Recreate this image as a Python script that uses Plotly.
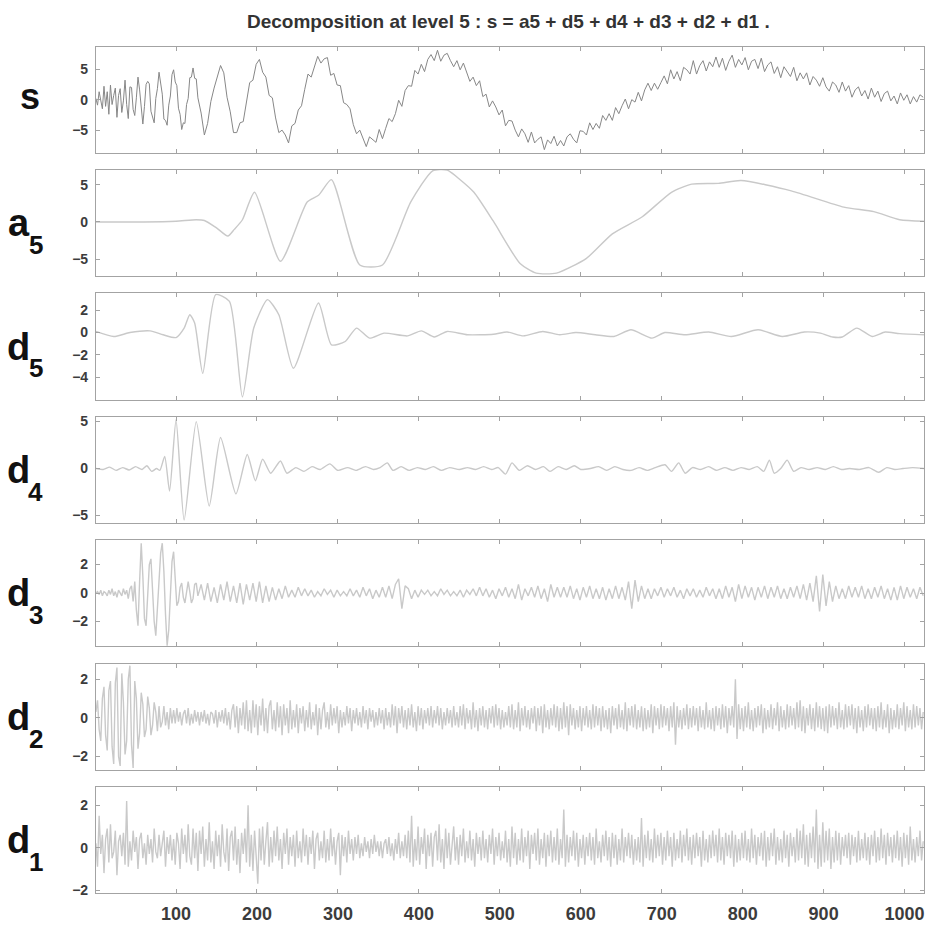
import numpy as np
import plotly.graph_objects as go

# ---------------- sample grids (sample index along the signal) ----------------
x_fine = np.concatenate([np.arange(1, 128, 2), np.arange(131, 1024, 4)])
x_step2 = np.arange(1, 1024, 2)

# ---------------- signal s ----------------
s_head = [
    0.2, -0.9, 1.3, -0.4, -1.5, 2.2, -1.1, 1.3, -2.4, 2.4, -0.8, 0.7, 1.9, -2.9, 0.7, 1.8,
    -2.1, -0.2, 3.2, -0.8, -3.1, 2.1, 2.0, -1.6, -2.6, 0.3, 3.7, 1.6, -0.8, -4.0, -1.1, 2.5,
    3.0, 2.6, -1.9, -2.9, -3.8, 0.2, 1.8, 4.5, 2.3, 0.9, -3.2, -3.4, -4.2, -0.9, 0.6, 4.1,
    4.9, 2.9, 2.3, -1.4, -2.4, -4.9, -3.8, -3.9, -0.8, 0.2, 3.6, 3.7, 5.2, 3.5, 3.4, 0.3,
]
s_tail = [
    -2.2, -5.8, -3.9, -0.3, 1.9, 3.6, 5.6, 4.4, 0.4, -2.0, -5.4, -5.4, -3.8, -3.6, -0.7, 2.8,
    3.2, 5.8, 6.6, 4.5, 3.7, 0.7, 0.3, -3.0, -5.4, -5.0, -5.8, -7.1, -4.3, -3.9, -1.7, -1.0,
    1.7, 4.2, 3.7, 5.3, 7.1, 6.0, 6.7, 6.9, 4.0, 4.3, 2.4, 2.3, -0.5, -0.8, -1.5, -4.1,
    -5.6, -5.0, -6.5, -7.7, -6.1, -6.5, -7.0, -4.9, -6.4, -4.7, -3.1, -3.6, -2.3, -0.1, -1.1, 1.5,
    2.3, 2.2, 4.8, 4.2, 5.8, 4.6, 6.6, 7.4, 6.4, 8.1, 6.3, 7.3, 7.6, 6.4, 5.4, 6.4,
    4.9, 6.0, 4.5, 3.0, 3.7, 2.3, 3.1, 0.5, 0.9, -1.2, -0.2, -1.2, -2.5, -1.7, -4.3, -3.4,
    -3.5, -5.0, -6.1, -4.8, -5.6, -7.0, -5.3, -7.1, -6.5, -6.1, -8.2, -6.6, -7.2, -6.0, -7.6, -6.7,
    -7.6, -6.1, -5.6, -6.5, -7.1, -5.1, -5.2, -5.8, -3.8, -4.9, -3.9, -4.7, -2.6, -3.4, -2.3, -3.4,
    -1.3, -2.3, -1.0, 0.1, -1.5, 0.0, -0.4, 1.2, -0.2, 1.6, 2.7, 1.5, 2.7, 1.7, 2.8, 3.9,
    2.6, 4.9, 3.4, 4.6, 3.1, 5.3, 4.9, 4.2, 6.4, 4.2, 5.6, 6.4, 4.7, 6.2, 5.4, 7.0,
    5.3, 6.8, 4.8, 6.3, 7.3, 5.3, 6.6, 5.7, 6.9, 4.9, 6.3, 6.6, 5.1, 6.8, 4.6, 5.7,
    6.2, 4.3, 5.4, 3.6, 5.4, 4.7, 3.8, 5.3, 3.1, 4.4, 3.4, 4.4, 2.4, 3.8, 3.2, 2.2,
    3.6, 2.1, 1.4, 2.9, 2.4, 1.2, 2.9, 1.4, 2.3, 0.4, 1.6, 2.1, 0.6, 1.5, 0.1, 1.9,
    0.4, 1.4, -0.3, 1.0, 1.4, -0.2, 0.6, -0.7, 1.1, -0.1, 0.8, -0.7, 0.5, -0.4, 0.8, 0.4,
]
s_vals = s_head + s_tail

# ---------------- approximation a5 ----------------
a5_x = [1, 60, 100, 125, 135, 150, 164, 172, 182, 197, 229, 262, 276, 292, 327, 355,
        390, 417, 435, 451, 468, 492, 525, 545, 570, 607, 639, 676, 712, 737, 770,
        798, 860, 925, 962, 994, 1024]
a5_vals = [0.0, 0.0, 0.1, 0.3, 0.2, -0.8, -1.9, -1.0, 0.3, 4.0, -5.3, 2.7, 3.6, 5.7, -5.8, -5.8,
           2.7, 6.9, 7.0, 5.7, 4.0, 0.1, -5.6, -6.9, -6.9, -4.9, -1.6, 0.7, 4.0, 5.1, 5.2,
           5.6, 4.2, 2.0, 1.4, 0.3, 0.1]

# ---------------- detail d5 ----------------
d5_x = [1, 23, 43, 68, 84, 100, 110, 117, 123, 133, 149, 166, 182, 196, 213, 227, 245,
        276, 292, 309, 323, 339, 357, 386, 403, 419, 435, 460, 492, 509, 529, 553, 574,
        594, 618, 641, 662, 688, 704, 729, 758, 786, 819, 849, 876, 896, 911, 923, 941,
        960, 976, 994, 1024]
d5_vals = [0.1, -0.36, 0.0, 0.15, -0.2, -0.45, 0.4, 1.6, 0.85, -3.66, 3.4, 2.8, -5.77, 0.4,
           2.95, 1.6, -3.2, 2.65, -1.1, -0.8, 0.4, -0.5, -0.05, -0.3, 0.15, -0.4, 0.1, -0.2,
           -0.15, 0.05, -0.3, 0.1, -0.2, 0.0, -0.2, -0.35, 0.25, -0.5, 0.0, -0.2, 0.05,
           -0.35, 0.25, -0.35, 0.05, -0.05, -0.4, -0.4, 0.4, -0.35, 0.05, -0.1, -0.2]

# ---------------- detail d4 ----------------
d4_x = [1, 10, 18, 26, 34, 42, 50, 58, 64, 70, 76, 80, 86, 92, 100, 110, 125, 141, 155,
        174, 188, 198, 207, 217, 229, 237, 248, 258, 268, 278, 290, 300, 312, 322, 334,
        344, 352, 361, 368, 378, 388, 398, 408, 418, 428, 438, 450, 460, 470, 480, 490,
        498, 507, 515, 524, 534, 544, 554, 562, 572, 582, 592, 600, 612, 622, 632, 642,
        652, 662, 672, 682, 692, 704, 712, 721, 729, 738, 748, 758, 768, 778, 788, 798,
        808, 818, 826, 833, 839, 847, 855, 863, 872, 882, 892, 902, 912, 922, 932, 944,
        956, 968, 978, 988, 998, 1010, 1024]
d4_vals = [0.0, -0.1, 0.15, -0.2, 0.1, -0.15, 0.2, -0.1, 0.3, -0.3, 0.0, -0.2, 1.3, -2.4,
           5.2, -5.5, 5.0, -4.0, 3.3, -2.7, 1.5, -1.3, 1.0, -0.5, 0.8, -0.5, 0.1, -0.3, 0.2,
           -0.1, 0.5, -0.2, 0.1, -0.2, 0.2, -0.1, 0.1, 0.6, -0.2, 0.2, -0.2, 0.1, -0.1, 0.2,
           -0.2, 0.1, -0.1, 0.1, -0.1, 0.2, -0.1, 0.1, -0.6, 0.6, -0.2, 0.3, -0.1, 0.2, -0.3,
           0.2, -0.1, 0.3, -0.1, 0.0, 0.2, -0.2, 0.2, -0.1, -0.2, 0.1, -0.2, 0.1, 0.4, -0.3,
           0.6, -0.5, 0.1, -0.1, 0.2, -0.2, 0.1, -0.2, 0.1, -0.1, 0.2, -0.3, 0.9, -0.5, 0.0,
           0.9, -0.3, 0.1, -0.1, 0.1, -0.1, 0.2, -0.1, 0.0, -0.1, 0.1, -0.4, 0.1, -0.1, 0.0,
           0.1, 0.0]

# ---------------- detail d3 ----------------
d3_head = [
    0.0, 0.1, -0.1, 0.2, -0.2, 0.1, 0.0, -0.2, 0.2, -0.1, 0.3, -0.2, 0.1, -0.3, 0.2, 0.0,
    -0.2, 0.3, -0.1, 0.2, -0.4, 0.3, 0.5, -0.6, 0.8, -1.2, -2.3, 0.8, 3.5, 1.2, -1.8, -2.3,
    0.2, 2.0, 2.4, 0.4, -2.0, -3.0, -1.0, 1.0, 2.8, 3.5, 1.5, -1.5, -3.7, -2.6, 0.2, 2.2,
    2.9, 1.2, -0.9, -0.6, 0.4, 0.7, -0.3, -0.7, 0.2, 0.8, 0.1, -0.7, -0.4, 0.6, 0.7, -0.2,
]
d3_tail = [
    0.6, -0.5, 0.7, -0.6, 0.4, -0.7, 0.6, -0.5, 0.8, -0.6, 0.5, -0.7, 0.7, -0.8, 0.6, -0.5,
    0.7, -0.6, 0.8, -0.7, 0.5, -0.6, 0.4, -0.5, 0.3, -0.4, 0.5, -0.3, 0.2, -0.3, 0.4, -0.2,
    0.3, -0.2, 0.2, -0.3, 0.1, -0.2, 0.3, -0.1, 0.2, -0.3, 0.2, -0.2, 0.1, -0.2, 0.3, -0.2,
    0.2, -0.3, 0.4, -0.2, 0.3, -0.4, 0.2, -0.3, 0.4, -0.3, 0.5, -0.4, 0.6, 1.0, -1.1, 0.5,
    0.3, -0.4, 0.2, -0.3, 0.2, -0.1, 0.2, -0.2, 0.1, -0.2, 0.3, -0.1, 0.2, -0.2, 0.1, -0.2,
    0.2, -0.3, 0.2, -0.1, 0.3, -0.2, 0.4, -0.2, 0.3, -0.3, 0.2, -0.4, 0.3, -0.2, 0.4, -0.3,
    0.3, -0.4, 0.6, -0.5, 0.3, -0.2, 0.4, -0.3, 0.5, -0.4, 0.3, -0.6, 0.6, -0.3, 0.4, -0.3,
    0.4, -0.3, 0.5, -0.4, 0.3, -0.5, 0.4, -0.3, 0.5, -0.4, 0.3, -0.4, 0.4, -0.5, 0.3, -0.4,
    0.5, -0.4, 0.4, -0.5, 0.8, -1.1, 0.9, -0.6, 0.5, -0.4, 0.3, -0.4, 0.3, -0.2, 0.4, -0.3,
    0.3, -0.2, 0.4, -0.3, 0.2, -0.4, 0.3, -0.2, 0.3, -0.3, 0.2, -0.3, 0.4, -0.2, 0.3, -0.4,
    0.3, -0.4, 0.5, -0.3, 0.4, -0.6, 0.6, -0.4, 0.5, -0.3, 0.4, -0.5, 0.4, -0.3, 0.5, -0.4,
    0.4, -0.3, 0.5, -0.4, 0.3, -0.4, 0.4, -0.3, 0.5, -0.4, 0.6, -0.5, 0.7, -0.6, 1.2, -1.3,
    1.3, -0.9, 0.8, -0.6, 0.5, -0.4, 0.3, -0.4, 0.5, -0.3, 0.4, -0.3, 0.5, -0.4, 0.3, -0.4,
    0.4, -0.3, 0.5, -0.4, 0.3, -0.5, 0.4, -0.5, 0.5, -0.4, 0.4, -0.3, 0.3, -0.4, 0.4, -0.2,
]
d3_vals = d3_head + d3_tail

# ---------------- detail d2 ----------------
d2_vals = [
    0.3, 0.9, -0.6, -1.2, 1.0, 1.6, -0.9, -1.7, 1.4, 1.9, -1.5, -2.4, 1.8, 2.6, -2.0, -2.5,
    2.3, 0.8, -1.9, -1.2, 2.0, 2.7, -1.4, -2.6, 1.9, 1.0, -1.6, -0.8, 1.3, 0.7, -1.0, -0.6,
    1.1, 0.5, -0.9, -0.4, 0.8, 0.3, -0.7, 0.6, -0.5, -0.2, 0.6, -0.4, 0.3, -0.6, 0.5, -0.3,
    0.4, -0.3, 0.5, -0.2, 0.3, -0.4, 0.2, 0.4, -0.3, 0.5, -0.4, 0.2, -0.3, 0.4, -0.2, 0.3,
    -0.4, 0.3, -0.2, 0.4, -0.3, 0.2, -0.4, 0.3, 0.2, -0.3, 0.4, -0.5, 0.3, -0.2, 0.4, -0.3,
    0.5, -0.4, 0.3, -0.6, 0.4, 0.7, -0.5, 0.6, -0.8, 0.5, -0.4, 0.8, -0.6, 0.9, -0.7, 0.4,
    -0.8, 0.9, -0.5, 0.7, -0.9, 0.6, -0.4, 1.0, -0.7, 0.5, -0.8, 0.6, 0.9, -0.6, 0.4, -0.7,
    0.8, -0.5, 0.6, -0.9, 0.7, -0.4, 0.5, -0.8, 0.9, -0.6, 0.4, -0.5, 0.7, -0.8, 0.5, -0.3,
    0.6, -0.7, 0.4, -0.5, 0.8, -0.6, 0.3, -0.4, 0.7, -0.9, 0.5, -0.6, 0.4, 0.8, -0.5, 0.3,
    -0.6, 0.7, -0.4, 0.5, -0.3, 0.6, -0.8, 0.4, -0.5, 0.3, -0.4, 0.6, -0.3, 0.5, -0.7, 0.4,
    -0.3, 0.5, -0.4, 0.3, -0.5, 0.6, -0.3, 0.4, -0.6, 0.5, -0.2, 0.4, -0.5, 0.3, -0.4, 0.5,
    -0.3, 0.4, -0.6, 0.5, -0.4, 0.3, -0.5, 0.7, -0.4, 0.6, -0.8, 0.5, -0.3, 0.6, -0.5, 0.4,
    -0.6, 0.5, -0.4, 0.7, -0.5, 0.3, -0.7, 0.6, -0.4, 0.5, -0.6, 0.4, -0.3, 0.5, -0.4, 0.6,
    -0.5, 0.4, -0.3, 0.6, -0.4, 0.5, -0.6, 0.3, -0.4, 0.5, -0.3, 0.4, -0.5, 0.6, -0.4, 0.3,
    -0.5, 0.6, -0.4, 0.7, -0.6, 0.5, -0.3, 0.4, -0.6, 0.8, -0.5, 0.4, -0.7, 0.5, -0.4, 0.6,
    -0.5, 0.4, -0.6, 0.5, -0.3, 0.6, -0.5, 0.7, -0.4, 0.5, -0.6, 0.4, -0.5, 0.3, -0.4, 0.6,
    -0.5, 0.7, -0.6, 0.4, -0.5, 0.8, -0.7, 0.5, -0.4, 0.6, -0.5, 0.4, -0.6, 0.5, -0.3, 0.6,
    -0.7, 0.5, -0.4, 0.6, -0.8, 0.7, -0.5, 0.4, -0.6, 0.5, -0.4, 0.7, -0.5, 0.6, -0.7, 0.5,
    -0.6, 0.8, -0.5, 0.6, -0.9, 0.7, -0.4, 0.5, -0.6, 0.4, -0.5, 0.6, -0.7, 0.5, -0.4, 0.6,
    -0.5, 0.4, -0.6, 0.7, -0.5, 0.6, -0.4, 0.5, -0.7, 0.6, -0.5, 0.4, -0.6, 0.5, -0.8, 0.6,
    -0.4, 0.5, -0.6, 0.7, -0.5, 0.4, -0.6, 0.8, -0.7, 0.5, -0.4, 0.6, -0.5, 0.7, -0.6, 0.4,
    -0.5, 0.6, -0.7, 0.5, -0.6, 0.4, -0.5, 0.7, -0.8, 0.6, -0.4, 0.5, -0.6, 0.7, -0.5, 0.6,
    -0.4, 0.5, -0.7, 0.6, -0.5, 0.8, -1.4, 0.6, -0.5, 0.4, -0.6, 0.5, -0.4, 0.7, -0.6, 0.5,
    -0.5, 0.6, -0.4, 0.5, -0.7, 0.6, -0.5, 0.4, -0.6, 0.8, -0.5, 0.4, -0.6, 0.5, -0.7, 0.6,
    -0.4, 0.5, -0.6, 0.7, -0.5, 0.6, -0.8, 0.5, -0.4, 0.6, -0.5, 2.0, -1.1, 0.7, -0.6, 0.5,
    -0.7, 0.6, -0.5, 0.8, -0.6, 0.4, -0.7, 0.5, -0.5, 0.6, -0.4, 0.7, -0.8, 0.5, -0.6, 0.4,
    -0.5, 0.7, -0.6, 0.5, -0.4, 0.8, -0.7, 0.6, -0.5, 0.4, -0.6, 0.7, -0.5, 0.6, -0.4, 0.5,
    -0.6, 0.8, -0.5, 0.9, -0.7, 0.6, -0.8, 0.5, -0.4, 0.7, -0.6, 0.5, -0.7, 0.8, -0.5, 0.6,
    -0.6, 0.5, -0.7, 0.6, -0.8, 0.7, -0.5, 0.6, -0.4, 0.5, -0.6, 0.8, -0.5, 0.4, -0.6, 0.7,
    -0.5, 0.6, -0.4, 0.7, -0.6, 0.5, -0.8, 0.6, -0.5, 0.4, -0.7, 0.6, -0.5, 0.7, -0.4, 0.5,
    -0.6, 0.5, -0.7, 0.6, -0.5, 0.8, -0.6, 0.4, -0.5, 0.7, -0.8, 0.5, -0.6, 0.4, -0.5, 0.7,
    -0.6, 0.5, -0.4, 0.8, -0.7, 0.6, -0.5, 0.4, -0.6, 0.7, -0.5, 0.6, -0.4, 0.5, -0.6, 0.3,
]

# ---------------- detail d1 ----------------
d1_vals = [
    0.2, -0.9, 1.5, -0.3, 0.6, -1.2, 0.4, 0.9, -0.7, 1.1, -0.5, -0.2, 0.8, -1.3, 0.3, 0.6,
    -0.4, 0.7, -0.8, 2.2, -0.9, 0.3, -0.6, 0.8, -0.2, 0.5, -1.0, 0.4, 0.7, -0.5, 0.2, -0.8,
    0.6, -0.3, 0.4, -0.7, 0.9, -0.2, -0.5, 0.6, -0.4, 0.3, 0.8, -0.9, 0.5, -0.3, 0.6, -0.6,
    0.4, -0.8, 0.7, 0.2, -1.0, 0.9, -0.3, 0.6, -0.7, 1.1, -0.4, -0.8, 0.9, -0.5, 0.7, -1.1,
    0.8, -0.3, 1.0, -0.9, 0.4, -0.6, 1.2, -0.7, 0.3, -1.0, 0.8, -0.4, 0.6, -0.9, 1.1, -0.2,
    -0.7, 0.9, -1.1, 0.5, 0.8, -0.6, 1.0, -0.8, 0.4, -1.2, 0.7, -0.3, 0.9, -0.7, 2.0, -0.9,
    0.6, -1.1, 0.8, -0.4, -1.7, 0.9, -0.6, 1.0, -0.8, 0.3, 1.2, -0.9, 0.5, -0.7, 0.8, -0.4,
    1.0, -0.6, 0.4, -1.0, 0.7, -0.3, 0.9, -0.8, 0.5, -0.4, 0.6, -0.9, 0.8, -0.5, 0.3, -0.7,
    0.9, -0.4, 0.6, -0.8, 0.5, -0.3, 0.8, -1.0, 0.4, 0.7, -0.6, 0.3, -0.5, 0.8, -0.7, 0.4,
    -0.6, 0.9, -0.4, 0.5, -0.8, 0.3, 0.7, -1.3, 0.6, -0.4, 0.5, -0.7, 0.8, -0.3, 0.4, -0.6,
    0.5, -0.3, 0.6, -0.5, 0.2, -0.4, 0.5, -0.2, 0.3, -0.5, 0.4, -0.3, 0.6, -0.2, 0.3, -0.4,
    0.3, -0.5, 0.2, 0.4, -0.3, 0.5, -0.4, 0.2, -0.6, 0.4, -0.3, 0.7, -0.5, 0.3, -0.4, 0.6,
    -0.5, 0.8, -0.7, 1.5, -0.9, 0.4, -0.6, 1.0, -0.8, 0.5, -0.3, 0.9, -1.0, 0.6, -0.4, 0.7,
    -0.9, 0.5, 0.8, -0.6, 1.1, -0.7, 0.4, -1.0, 0.9, -0.5, 0.7, -0.8, 0.3, 1.0, -0.6, 0.5,
    -0.8, 0.6, -0.4, 0.9, -0.7, 0.3, -0.5, 0.8, -0.6, 0.4, -0.9, 0.7, -0.3, 0.5, -0.6, 0.8,
    -0.5, 0.4, -0.7, 0.6, -0.3, 0.9, -0.8, 0.5, -0.4, 0.7, -0.6, 0.3, -0.5, 0.8, -0.7, 0.4,
    -0.9, 1.0, -0.5, 0.7, -0.8, 0.4, -0.6, 0.9, -0.7, 0.5, -0.4, 0.8, -1.0, 0.6, -0.3, 0.7,
    -0.6, 0.9, -0.8, 0.4, -0.5, 0.7, -0.9, 0.6, -0.4, 0.8, -0.7, 0.5, -0.6, 0.9, -0.8, 0.4,
    -0.5, 1.8, -0.9, 0.6, -0.7, 0.5, -0.4, 0.8, -0.6, 0.7, -0.9, 0.4, -0.5, 0.6, -0.8, 0.5,
    -0.4, 0.7, -0.6, 0.5, -0.8, 0.9, -0.5, 0.3, -0.7, 0.6, -0.4, 0.8, -0.6, 0.5, -0.9, 0.7,
    -0.5, 0.6, -0.8, 0.4, -0.6, 0.9, -0.7, 0.5, -0.4, 0.7, -0.5, 0.6, -0.8, 0.4, -0.6, 0.5,
    -0.7, 1.4, -0.9, 0.6, -0.5, 0.8, -0.6, 0.4, -0.7, 0.9, -0.5, 0.6, -0.4, 0.7, -0.8, 0.5,
    -0.6, 0.8, -0.4, 0.5, -0.9, 0.7, -0.6, 0.4, -0.5, 0.8, -0.7, 0.6, -0.4, 0.9, -0.6, 0.5,
    -0.8, 0.6, -0.5, 0.7, -0.4, 0.5, -0.9, 0.8, -0.6, 0.4, -0.7, 0.6, -0.5, 0.8, -0.4, 0.6,
    -0.7, 0.9, -0.6, 0.5, -0.8, 0.7, -0.4, 0.6, -0.5, 0.8, -0.9, 0.6, -0.7, 0.4, -0.6, 0.7,
    -0.5, 0.8, -0.6, 0.4, -0.7, 0.9, -0.5, 0.6, -0.8, 0.5, -0.4, 0.7, -0.6, 0.8, -0.9, 0.5,
    -0.6, 0.7, -0.4, 0.9, -0.8, 0.5, -0.6, 0.4, -0.7, 0.8, -0.5, 0.6, -0.9, 0.7, -0.4, 0.5,
    -0.7, 0.9, -0.6, 0.8, -0.5, 1.1, -0.8, 0.6, -0.9, 0.7, -0.5, 1.0, -0.7, 1.8, -1.0, 0.6,
    -0.9, 1.2, -0.7, 0.8, -0.6, 0.9, -1.0, 0.5, -0.7, 0.8, -0.6, 0.7, -0.8, 0.5, -0.4, 0.6,
    -0.5, 0.7, -0.8, 0.6, -0.4, 0.5, -0.7, 0.8, -0.6, 0.4, -0.5, 0.7, -0.6, 0.5, -0.8, 0.6,
    -0.4, 0.8, -0.7, 0.5, -0.6, 0.9, -0.5, 0.6, -0.8, 0.7, -0.4, 0.5, -0.7, 0.6, -0.5, 0.8,
    -0.6, 0.5, -0.9, 0.7, -0.5, 0.6, -0.8, 1.0, -0.6, 0.4, -0.7, 0.5, -0.4, 0.8, -0.6, 0.3,
]

# ---------------- panel definitions ----------------
row_letters = ["s", "a", "d", "d", "d", "d", "d"]
row_subs = ["", "5", "5", "4", "3", "2", "1"]
series_x = [x_fine, a5_x, d5_x, d4_x, x_fine, x_step2, x_step2]
series_y = [s_vals, a5_vals, d5_vals, d4_vals, d3_vals, d2_vals, d1_vals]
smooth_line = [False, True, True, True, False, False, False]
y_ranges = [[-8.7, 8.7], [-7.3, 7.0], [-6.0, 3.5], [-5.8, 5.5], [-3.75, 3.7], [-2.7, 2.8], [-2.15, 2.85]]
y_ticks = [[-5, 0, 5], [-5, 0, 5], [-4, -2, 0, 2], [-5, 0, 5], [-2, 0, 2], [-2, 0, 2], [-2, 0, 2]]
x_ticks = [100, 200, 300, 400, 500, 600, 700, 800, 900, 1000]
title_text = "Decomposition at level 5 : s = a5 + d5 + d4 + d3 + d2 + d1 ."

W = H = 927
LEFT, RIGHT = 96, 925
TOP0, PANEL_H, STEP = 44, 107, 124.5

FONT = "Liberation Sans, Arial, Helvetica, sans-serif"
FRAME = "#a3a3a3"
TICKTXT = "#3c3c3c"

fig = go.Figure()
layout = dict(
    width=W, height=H, margin=dict(l=0, r=0, t=0, b=0),
    paper_bgcolor="white", plot_bgcolor="white", showlegend=False,
    hovermode=False, annotations=[],
)

for i in range(7):
    sfx = "" if i == 0 else str(i + 1)
    top = TOP0 + STEP * i
    bot = top + PANEL_H
    line = dict(color="#878787" if i == 0 else "#c9c9c9", width=1.0 if i == 0 else 1.4)
    if smooth_line[i]:
        line.update(shape="spline", smoothing=0.6)
    fig.add_trace(go.Scatter(
        x=series_x[i], y=series_y[i], mode="lines", line=line,
        xaxis="x" + sfx, yaxis="y" + sfx,
    ))
    layout["xaxis" + sfx] = dict(
        domain=[LEFT / W, RIGHT / W], range=[1, 1024], anchor="y" + sfx,
        showline=True, mirror="ticks", linecolor=FRAME, linewidth=1,
        ticks="inside", ticklen=4, tickcolor=FRAME, tickwidth=1,
        tickvals=x_ticks, showticklabels=(i == 6), showgrid=False, zeroline=False,
        ticklabelstandoff=4,
        tickfont=dict(family=FONT, size=18, color=TICKTXT, weight="bold"),
    )
    layout["yaxis" + sfx] = dict(
        domain=[1 - bot / H, 1 - top / H], range=y_ranges[i], anchor="x" + sfx,
        showline=True, mirror="ticks", linecolor=FRAME, linewidth=1,
        ticks="inside", ticklen=4, tickcolor=FRAME, tickwidth=1,
        tickvals=y_ticks[i], showgrid=False, zeroline=False,
        ticklabelstandoff=4,
        tickfont=dict(family=FONT, size=14, color=TICKTXT, weight="bold"),
    )
    mid = (top + bot) / 2
    if row_subs[i]:
        layout["annotations"].append(dict(
            x=19 / W, y=1 - mid / H, xref="paper", yref="paper",
            text=row_letters[i], showarrow=False, xanchor="center", yanchor="middle",
            font=dict(family=FONT, size=38, color="#111111", weight="bold"),
        ))
        layout["annotations"].append(dict(
            x=36 / W, y=1 - (mid + 22) / H, xref="paper", yref="paper",
            text=row_subs[i], showarrow=False, xanchor="center", yanchor="middle",
            font=dict(family=FONT, size=26, color="#111111", weight="bold"),
        ))
    else:
        layout["annotations"].append(dict(
            x=30 / W, y=1 - (mid - 3) / H, xref="paper", yref="paper",
            text=row_letters[i], showarrow=False, xanchor="center", yanchor="middle",
            font=dict(family=FONT, size=36, color="#111111", weight="bold"),
        ))

layout["annotations"].append(dict(
    x=509 / W, y=1 - 19 / H, xref="paper", yref="paper", text=title_text,
    showarrow=False, xanchor="center", yanchor="middle",
    font=dict(family=FONT, size=19, color="#333333", weight="bold"),
))

fig.update_layout(**layout)
fig.write_html("out.html")
